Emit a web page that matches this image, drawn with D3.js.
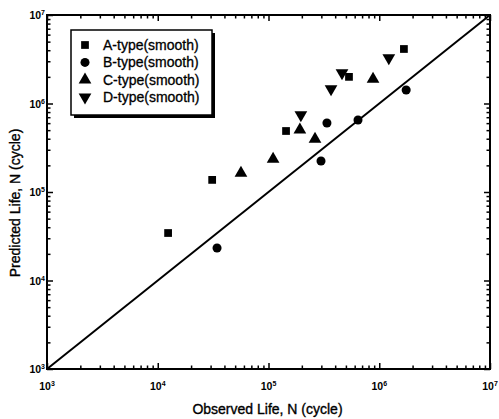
<!DOCTYPE html>
<html><head><meta charset="utf-8">
<script src="https://cdn.jsdelivr.net/npm/d3@7"></script>
<style>body{margin:0;background:#fff}svg{display:block}</style>
</head><body>
<svg id="c" width="499" height="419"></svg>
<script>
const seriesNames = ["A-type(smooth)","B-type(smooth)","C-type(smooth)","D-type(smooth)"];
const seriesA = [[12400,34400],[31000,137000],[144000,489000],[533000,2000000],[1670000,4130000]];
const seriesB = [[34300,23300],[298000,224000],[337000,602000],[643000,651000],[1750000,1420000]];
const seriesC = [[56400,164000],[110000,236000],[192000,504000],[263000,397000],[879000,1890000]];
const seriesD = [[196000,741000],[367000,1460000],[461000,2210000],[1220000,3270000]];
const decadeExps = [3,4,5,6,7];
const xTitle = "Observed Life, N (cycle)";
const yTitle = "Predicted Life, N (cycle)";

const svg = d3.select("#c");
const L=47,R=490,T=15,B=369;
const x = d3.scaleLog().domain([1e3,1e7]).range([L,R]);
const y = d3.scaleLog().domain([1e3,1e7]).range([B,T]);
const font = "'Liberation Sans', Arial, sans-serif";

const majors = decadeExps.map(e=>Math.pow(10,e));
const minors = [];
decadeExps.slice(0,-1).forEach(e=>{for(let k=2;k<10;k++) minors.push(k*Math.pow(10,e));});

function ax(gen, scale, vals, size, tr){
  const g = svg.append("g").attr("transform",tr)
    .call(gen(scale).tickValues(vals).tickSizeInner(-size).tickSizeOuter(0).tickFormat(""));
  g.select(".domain").remove();
  g.selectAll("line").attr("stroke","#000").attr("stroke-width",1.5);
}
[[d3.axisBottom,x,`translate(0,${B})`],[d3.axisTop,x,`translate(0,${T})`],
 [d3.axisLeft,y,`translate(${L},0)`],[d3.axisRight,y,`translate(${R},0)`]].forEach(([gen,s,tr])=>{
  ax(gen,s,majors,6,tr); ax(gen,s,minors,3.5,tr);
});

// frame
svg.append("rect").attr("x",L).attr("y",T).attr("width",R-L).attr("height",B-T)
  .attr("fill","none").attr("stroke","#000").attr("stroke-width",2);

// diagonal
svg.append("line").attr("x1",x(1e3)).attr("y1",y(1e3)).attr("x2",x(1e7)).attr("y2",y(1e7))
  .attr("stroke","#000").attr("stroke-width",2);

// tick labels
majors.forEach((v,i)=>{
  const e = decadeExps[i];
  const t = svg.append("text").attr("x",x(v)).attr("y",390).attr("text-anchor","middle")
    .attr("font-family",font).attr("font-weight","bold").attr("font-size",10.5);
  t.append("tspan").text("10");
  t.append("tspan").attr("font-size",7).attr("dy",-4).text(e);
  const t2 = svg.append("text").attr("x",L-2).attr("y",y(v)+4).attr("text-anchor","end")
    .attr("font-family",font).attr("font-weight","bold").attr("font-size",10.5);
  t2.append("tspan").text("10");
  t2.append("tspan").attr("font-size",7).attr("dy",-4).text(e);
});

// axis titles
svg.append("text").attr("x",(L+R)/2 - 1).attr("y",414).attr("text-anchor","middle")
  .attr("font-family",font).attr("font-size",14).attr("stroke","#000").attr("stroke-width",0.35)
  .text(xTitle);
svg.append("text").attr("transform",`translate(20,203) rotate(-90)`).attr("text-anchor","middle")
  .attr("font-family",font).attr("font-size",14).attr("stroke","#000").attr("stroke-width",0.35)
  .text(yTitle);

// markers
const sym = [d3.symbolSquare, d3.symbolCircle, d3.symbolTriangle, d3.symbolTriangle];
const sizes = [60, 64, 70, 70];
const rot = [0,0,0,180];
const data = [seriesA,seriesB,seriesC,seriesD];
data.forEach((s,i)=>{
  svg.append("g").selectAll("path").data(s).join("path")
    .attr("d",d3.symbol(sym[i],sizes[i]))
    .attr("transform",d=>`translate(${x(d[0])},${y(d[1])}) rotate(${rot[i]})`)
    .attr("fill","#000");
});

// legend
const lg = svg.append("g");
lg.append("rect").attr("x",74).attr("y",33).attr("width",141).attr("height",85).attr("fill","#000");
lg.append("rect").attr("x",71).attr("y",30).attr("width",141).attr("height",85)
  .attr("fill","#fff").attr("stroke","#000").attr("stroke-width",1.5);
seriesNames.forEach((n,i)=>{
  const yy = 45 + i*17.4;
  lg.append("path").attr("d",d3.symbol(sym[i],sizes[i]))
    .attr("transform",`translate(85,${yy}) rotate(${rot[i]})`).attr("fill","#000");
  lg.append("text").attr("x",103).attr("y",yy+5).attr("font-family",font).attr("font-size",14)
    .attr("stroke","#000").attr("stroke-width",0.3).text(n);
});
</script>
</body></html>
